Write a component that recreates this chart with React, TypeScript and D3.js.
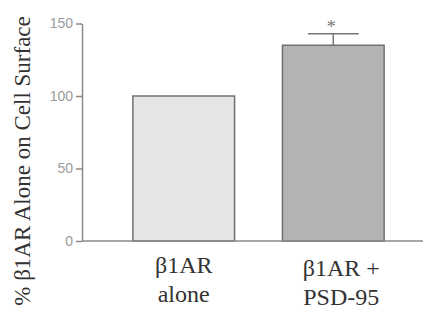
import { useRef, useEffect } from "react";
import * as d3 from "d3";

// bar categories, each label split into its two printed lines
const categories = ["alone", "psd95"];
const labelLines = [
  ["β1AR", "alone"],
  ["β1AR +", "PSD-95"],
];
const values = [100, 135];
const errors = [0, 8];
const marks = ["", "*"];
const yTicks = [0, 50, 100, 150];
const yLabel = "% β1AR Alone on Cell Surface";
const fills = ["#e6e6e6", "#b3b3b3"];

const serif = "Liberation Serif";

const App = () => {
  const svgRef = useRef<SVGSVGElement>(null);

  const width = 425;
  const height = 320;

  useEffect(() => {
    const svg = d3.select(svgRef.current);
    svg.selectAll("*").remove();

    const y = d3.scaleLinear().domain([0, 150]).range([241, 23.5]);
    const x = d3
      .scaleBand()
      .domain(categories)
      .range([82, 435])
      .paddingInner(0.32)
      .paddingOuter(0.34);
    const bw = x.bandwidth();

    svg
      .selectAll("rect.bar")
      .data(categories)
      .enter()
      .append("rect")
      .attr("class", "bar")
      .attr("x", (d) => x(d) as number)
      .attr("y", (d, i) => y(values[i]))
      .attr("width", bw)
      .attr("height", (d, i) => y(0) - y(values[i]))
      .attr("fill", (d, i) => fills[i])
      .attr("stroke", "#707070")
      .attr("stroke-width", 1.5);

    // error bars + significance mark
    categories.forEach((c, i) => {
      if (!errors[i]) return;
      const cx = (x(c) as number) + bw / 2;
      const top = y(values[i] + errors[i]);
      const eg = svg.append("g").attr("stroke", "#777").attr("stroke-width", 1.5);
      eg.append("line").attr("x1", cx).attr("x2", cx).attr("y1", y(values[i])).attr("y2", top);
      eg.append("line").attr("x1", cx - bw / 4).attr("x2", cx + bw / 4).attr("y1", top).attr("y2", top);
      svg
        .append("text")
        .attr("x", cx - 2)
        .attr("y", top - 1)
        .attr("text-anchor", "middle")
        .attr("fill", "#777")
        .attr("font-family", serif)
        .attr("font-size", 18)
        .text(marks[i]);
    });

    // category labels
    categories.forEach((c, i) => {
      const cx = (x(c) as number) + bw / 2 + (i === 0 ? 0 : 8);
      labelLines[i].forEach((line, j) => {
        svg
          .append("text")
          .attr("x", cx)
          .attr("y", 273 + i * 3 + j * 29)
          .attr("text-anchor", "middle")
          .attr("fill", "#333")
          .attr("font-family", serif)
          .attr("font-size", 24)
          .text(line);
      });
    });

    svg
      .append("line")
      .attr("x1", 82)
      .attr("x2", 423)
      .attr("y1", y(0))
      .attr("y2", y(0))
      .attr("stroke", "#8a8a8a")
      .attr("stroke-width", 1.5);

    const g = svg.append("g").attr("transform", "translate(82,0)");
    g.call(d3.axisLeft(y).tickValues(yTicks).tickSize(6).tickSizeOuter(0));
    g.select(".domain").attr("stroke", "#8a8a8a").attr("stroke-width", 1.5);
    g.selectAll(".tick line").attr("stroke", "#8a8a8a").attr("stroke-width", 1.5);
    g.selectAll(".tick text")
      .attr("x", -9)
      .attr("fill", "#9a9a9a")
      .attr("font-family", "Liberation Sans")
      .attr("font-size", 14);

    svg
      .append("text")
      .attr("transform", "translate(30,161) rotate(-90)")
      .attr("text-anchor", "middle")
      .attr("fill", "#333")
      .attr("font-family", serif)
      .attr("font-size", 23)
      .text(yLabel);
  }, []);

  return (
    <svg
      ref={svgRef}
      width={width}
      height={height}
      fontFamily={serif}
      style={{ position: "absolute", left: 0, top: 0 }}
    />
  );
};

export default App;
